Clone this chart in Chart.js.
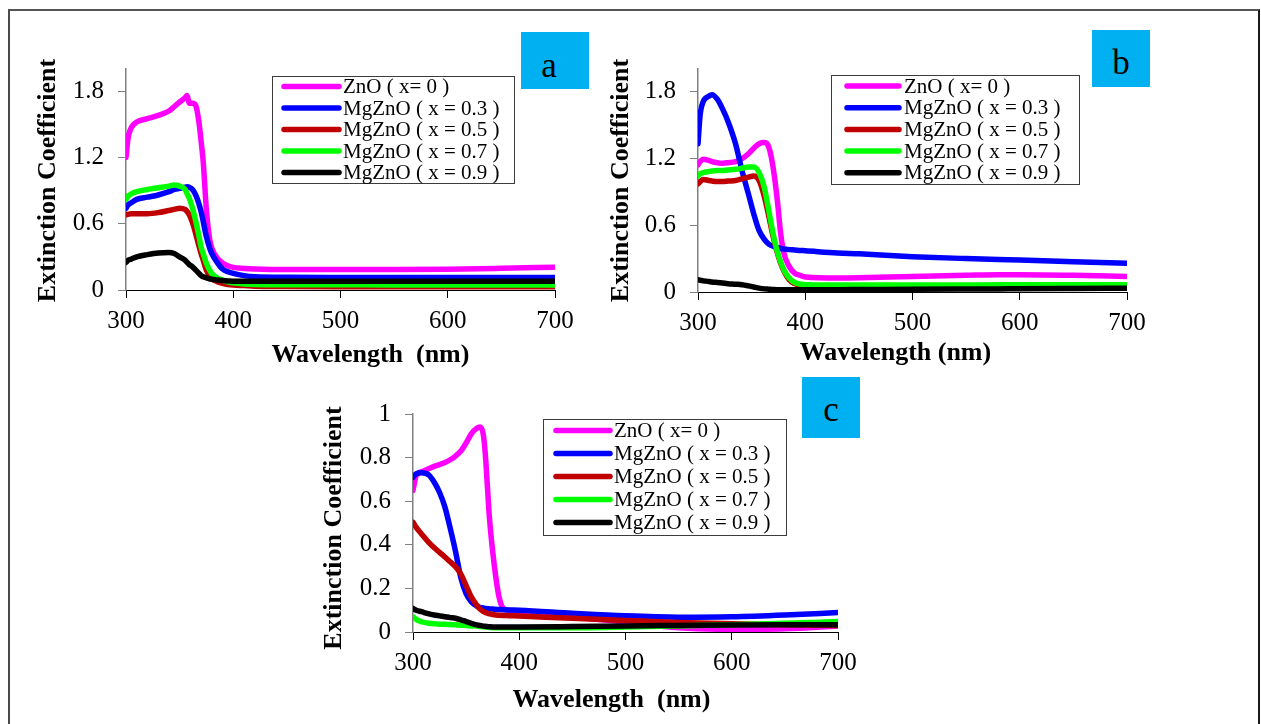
<!DOCTYPE html>
<html>
<head>
<meta charset="utf-8">
<script src="https://cdn.jsdelivr.net/npm/chart.js@4/dist/chart.umd.min.js"></script>
<style>
  body { margin: 0; background: #fff; width: 1261px; height: 724px; overflow: hidden; position: relative; }
  .frame { position: absolute; left: 8px; top: 9px; width: 1248px; height: 760px;
           border-left: 2px solid #4a4a4a; border-top: 2px solid #555; border-right: 2px solid #1a1a1a; }
  canvas { position: absolute; }
  .tag { position: absolute; background: #00B0F0; color: #000; text-align: center;
         font-family: "Liberation Serif", serif; font-size: 35px; }
</style>
</head>
<body>
<div class="frame"></div>
<canvas id="chartA" width="580" height="340" style="left:10px; top:40px;"></canvas>
<canvas id="chartB" width="580" height="340" style="left:600px; top:40px;"></canvas>
<canvas id="chartC" width="580" height="339" style="left:300px; top:385px;"></canvas>
<div class="tag" style="left:521px; top:32px; width:68px; height:52px; padding-top:5px; line-height:57px; text-indent:-12px;">a</div>
<div class="tag" style="left:1092px; top:30px; width:58px; height:53px; padding-top:4px; line-height:57px;">b</div>
<div class="tag" style="left:802px; top:377px; width:58px; height:59px; padding-top:2px; line-height:61px;">c</div>

<script>
// tick values shared by the three panels
const xTicks = [300, 400, 500, 600, 700];
const yTicksAB = [0, 0.6, 1.2, 1.8];
const yTicksC = [0, 0.2, 0.4, 0.6, 0.8, 1];

const seriesLabels = ["ZnO ( x= 0 )", "MgZnO ( x = 0.3 )", "MgZnO ( x = 0.5 )", "MgZnO ( x = 0.7 )", "MgZnO ( x = 0.9 )"];
const seriesColors = ["#FF00FF", "#0000FF", "#C00000", "#00FF00", "#000000"];

// panel a
const waveA = [300, 302, 305, 310, 320, 330, 340, 345, 350, 355, 357, 359, 362, 365, 368, 370, 372, 375, 378, 380, 385, 390, 395, 400, 410, 420, 450, 500, 550, 600, 650, 700];
const znoA  = [1.20, 1.38, 1.47, 1.52, 1.55, 1.58, 1.62, 1.66, 1.70, 1.74, 1.76, 1.69, 1.69, 1.67, 1.52, 1.35, 1.16, 0.72, 0.46, 0.38, 0.29, 0.245, 0.22, 0.205, 0.195, 0.19, 0.185, 0.185, 0.185, 0.188, 0.196, 0.206];
const mg03A = [0.74, 0.77, 0.79, 0.82, 0.84, 0.86, 0.89, 0.91, 0.92, 0.93, 0.935, 0.93, 0.91, 0.86, 0.78, 0.71, 0.62, 0.48, 0.38, 0.33, 0.25, 0.19, 0.165, 0.15, 0.13, 0.12, 0.115, 0.113, 0.112, 0.112, 0.112, 0.112];
const mg05A = [0.68, 0.685, 0.69, 0.69, 0.69, 0.70, 0.72, 0.73, 0.74, 0.73, 0.71, 0.68, 0.61, 0.51, 0.40, 0.33, 0.27, 0.18, 0.13, 0.105, 0.075, 0.06, 0.05, 0.045, 0.04, 0.035, 0.032, 0.03, 0.03, 0.03, 0.03, 0.03];
const mg07A = [0.82, 0.85, 0.87, 0.89, 0.91, 0.925, 0.94, 0.95, 0.94, 0.91, 0.87, 0.83, 0.74, 0.625, 0.49, 0.39, 0.33, 0.24, 0.18, 0.15, 0.11, 0.09, 0.075, 0.065, 0.055, 0.05, 0.048, 0.047, 0.046, 0.046, 0.045, 0.045];
const mg09A = [0.25, 0.27, 0.28, 0.30, 0.32, 0.335, 0.34, 0.33, 0.30, 0.27, 0.25, 0.23, 0.21, 0.18, 0.15, 0.13, 0.12, 0.11, 0.10, 0.098, 0.09, 0.085, 0.082, 0.08, 0.08, 0.08, 0.08, 0.08, 0.08, 0.08, 0.08, 0.08];

// panel b
const waveB = [300, 302, 305, 310, 313, 318, 323, 328, 335, 341, 347, 352, 357, 362, 366, 370, 374, 377, 380, 385, 390, 395, 400, 430, 450, 500, 550, 580, 600, 650, 700];
const znoB  = [1.14, 1.17, 1.19, 1.18, 1.17, 1.16, 1.155, 1.16, 1.17, 1.195, 1.24, 1.29, 1.33, 1.34, 1.30, 1.12, 0.82, 0.53, 0.35, 0.23, 0.17, 0.15, 0.135, 0.125, 0.127, 0.14, 0.15, 0.155, 0.155, 0.15, 0.14];
const mg03B = [1.33, 1.59, 1.71, 1.755, 1.77, 1.73, 1.64, 1.53, 1.33, 1.09, 0.88, 0.70, 0.55, 0.47, 0.43, 0.41, 0.40, 0.39, 0.385, 0.38, 0.377, 0.373, 0.37, 0.35, 0.343, 0.317, 0.30, 0.292, 0.288, 0.272, 0.258];
const mg05B = [0.97, 0.99, 1.01, 1.0, 0.995, 0.99, 0.99, 0.995, 1.0, 1.015, 1.03, 1.04, 1.00, 0.85, 0.68, 0.50, 0.35, 0.26, 0.19, 0.11, 0.075, 0.06, 0.05, 0.05, 0.05, 0.05, 0.05, 0.05, 0.05, 0.05, 0.05];
const mg07B = [1.04, 1.06, 1.07, 1.08, 1.085, 1.09, 1.09, 1.095, 1.10, 1.11, 1.12, 1.12, 1.07, 0.93, 0.73, 0.525, 0.36, 0.27, 0.20, 0.125, 0.085, 0.072, 0.065, 0.063, 0.063, 0.063, 0.063, 0.064, 0.064, 0.065, 0.065];
const mg09B = [0.11, 0.105, 0.10, 0.095, 0.09, 0.085, 0.08, 0.075, 0.07, 0.065, 0.055, 0.045, 0.035, 0.028, 0.025, 0.022, 0.02, 0.02, 0.02, 0.02, 0.02, 0.02, 0.02, 0.021, 0.022, 0.025, 0.027, 0.028, 0.03, 0.032, 0.033];

// panel c
const waveC = [300, 303, 308, 315, 320, 325, 330, 335, 340, 345, 350, 355, 360, 363, 366, 368, 370, 372, 375, 378, 381, 385, 390, 400, 450, 500, 550, 600, 650, 700];
const znoC  = [0.65, 0.717, 0.735, 0.75, 0.76, 0.768, 0.777, 0.79, 0.807, 0.83, 0.867, 0.91, 0.935, 0.94, 0.91, 0.82, 0.67, 0.52, 0.37, 0.25, 0.16, 0.108, 0.10, 0.09, 0.07, 0.045, 0.02, 0.012, 0.015, 0.028];
const mg03C = [0.71, 0.725, 0.73, 0.72, 0.687, 0.64, 0.574, 0.476, 0.37, 0.25, 0.176, 0.138, 0.119, 0.113, 0.11, 0.108, 0.107, 0.106, 0.105, 0.104, 0.103, 0.102, 0.101, 0.10, 0.086, 0.074, 0.068, 0.07, 0.078, 0.089];
const mg05C = [0.503, 0.48, 0.45, 0.41, 0.386, 0.365, 0.344, 0.322, 0.30, 0.266, 0.213, 0.16, 0.123, 0.105, 0.095, 0.09, 0.086, 0.083, 0.08, 0.078, 0.077, 0.076, 0.075, 0.073, 0.063, 0.053, 0.044, 0.038, 0.033, 0.03];
const mg07C = [0.07, 0.058, 0.047, 0.04, 0.038, 0.036, 0.035, 0.034, 0.033, 0.031, 0.03, 0.028, 0.027, 0.025, 0.024, 0.023, 0.022, 0.021, 0.02, 0.02, 0.02, 0.02, 0.02, 0.02, 0.02, 0.023, 0.028, 0.033, 0.04, 0.048];
const mg09C = [0.108, 0.10, 0.093, 0.083, 0.078, 0.074, 0.07, 0.066, 0.063, 0.056, 0.048, 0.04, 0.033, 0.03, 0.027, 0.026, 0.025, 0.024, 0.023, 0.023, 0.023, 0.023, 0.023, 0.023, 0.025, 0.028, 0.03, 0.032, 0.033, 0.033];

const serif = "'Liberation Serif', 'Times New Roman', serif";
const lineWidth = 5.5;

// boxed legend drawn inside the plot area
const boxLegend = {
    id: "boxLegend",
    afterDraw(chart, args, opts) {
        const { ctx, chartArea } = chart;
        const x = Math.round(chartArea.left + opts.dx);
        const y = Math.round(chartArea.top + opts.dy);
        ctx.save();
        ctx.fillStyle = "#fff";
        ctx.fillRect(x, y, opts.width, opts.height);
        ctx.strokeStyle = "#3c3c3c";
        ctx.lineWidth = 1;
        ctx.strokeRect(x + 0.5, y + 0.5, opts.width, opts.height);
        ctx.font = "21px " + serif;
        ctx.textBaseline = "middle";
        ctx.lineCap = "round";
        chart.data.datasets.forEach((ds, i) => {
            const ry = y + opts.firstRow + i * opts.rowGap;
            ctx.strokeStyle = ds.borderColor;
            ctx.lineWidth = lineWidth;
            ctx.beginPath();
            ctx.moveTo(x + opts.lineStart, ry);
            ctx.lineTo(x + opts.lineEnd, ry);
            ctx.stroke();
            ctx.fillStyle = "#000";
            ctx.fillText(ds.label, x + opts.textStart, ry + 1);
        });
        ctx.restore();
    }
};

// axis titles, placed from the chart area
const axisTitles = {
    id: "axisTitles",
    afterDraw(chart, args, opts) {
        const { ctx, chartArea } = chart;
        ctx.save();
        ctx.fillStyle = "#000";
        ctx.font = "bold 26px " + serif;
        ctx.textAlign = "center";
        ctx.textBaseline = "middle";
        const cx = (chartArea.left + chartArea.right) / 2;
        ctx.fillText(opts.xText, cx + opts.xdx, chartArea.bottom + opts.xdy);
        const cy = (chartArea.top + chartArea.bottom) / 2;
        ctx.translate(chartArea.left - opts.ydx, cy + opts.ydy);
        ctx.rotate(-Math.PI / 2);
        ctx.fillText(opts.yText, 0, 0);
        ctx.restore();
    }
};

function makeSeries(wave, rows) {
    return rows.map((vals, i) => ({
        label: seriesLabels[i],
        data: wave.map((w, j) => ({ x: w, y: vals[j] })),
        borderColor: seriesColors[i],
        backgroundColor: seriesColors[i],
        borderWidth: lineWidth,
        pointRadius: 0,
        cubicInterpolationMode: "monotone",
        borderCapStyle: "round",
        borderJoinStyle: "round",
        order: rows.length - i
    }));
}

function makeChart(id, p) {
    const ctx = document.getElementById(id).getContext("2d");
    return new Chart(ctx, {
        type: "line",
        data: { datasets: makeSeries(p.wave, p.rows) },
        options: {
            responsive: false,
            animation: false,
            devicePixelRatio: 1,
            layout: { padding: { top: p.padTop, right: p.padRight, left: 0, bottom: 0 } },
            plugins: {
                legend: { display: false },
                tooltip: { enabled: false },
                boxLegend: p.legend,
                axisTitles: p.titles
            },
            scales: {
                x: {
                    type: "linear",
                    min: 300,
                    max: 700,
                    afterBuildTicks: s => { s.ticks = xTicks.map(v => ({ value: v })); },
                    afterFit: s => { s.height = p.xHeight; },
                    ticks: { color: "#000", font: { family: serif, size: 25 }, padding: 8, maxRotation: 0 },
                    grid: { drawOnChartArea: false, drawTicks: true, tickLength: 8, color: "#000" },
                    border: { display: true, color: "#000", width: 1 }
                },
                y: {
                    min: 0,
                    max: p.yMax,
                    afterBuildTicks: s => { s.ticks = p.yTicks.map(v => ({ value: v })); },
                    afterFit: s => { s.width = p.yWidth; },
                    ticks: { color: "#000", font: { family: serif, size: 25 }, padding: 14, callback: v => String(v) },
                    grid: { drawOnChartArea: false, drawTicks: true, tickLength: 8, color: "#808080" },
                    border: { display: true, color: "#808080", width: 1.5 }
                }
            }
        },
        plugins: [boxLegend, axisTitles]
    });
}

makeChart("chartA", {
    wave: waveA,
    rows: [znoA, mg03A, mg05A, mg07A, mg09A],
    yMax: 2, yTicks: yTicksAB,
    yWidth: 116, xHeight: 90, padTop: 26, padRight: 35,
    legend: { dx: 146, dy: 7, width: 242, height: 107, firstRow: 10.5, rowGap: 21.5, lineStart: 12, lineEnd: 67, textStart: 71 },
    titles: { xText: "Wavelength  (nm)", xdx: 30, xdy: 65, yText: "Extinction Coefficient", ydx: 78, ydy: 1 }
});

makeChart("chartB", {
    wave: waveB,
    rows: [znoB, mg03B, mg05B, mg07B, mg09B],
    yMax: 2, yTicks: yTicksAB,
    yWidth: 98, xHeight: 88, padTop: 28, padRight: 53,
    legend: { dx: 133, dy: 6, width: 248, height: 109, firstRow: 11, rowGap: 21.7, lineStart: 16, lineEnd: 68, textStart: 73 },
    titles: { xText: "Wavelength (nm)", xdx: -17, xdy: 61, yText: "Extinction Coefficient", ydx: 77, ydy: 0 }
});

makeChart("chartC", {
    wave: waveC,
    rows: [znoC, mg03C, mg05C, mg07C, mg09C],
    yMax: 1, yTicks: yTicksC,
    yWidth: 113, xHeight: 92, padTop: 26, padRight: 42,
    legend: { dx: 130, dy: 5, width: 243, height: 116, firstRow: 11.5, rowGap: 23, lineStart: 13, lineEnd: 67, textStart: 71 },
    titles: { xText: "Wavelength  (nm)", xdx: -14, xdy: 68, yText: "Extinction Coefficient", ydx: 79, ydy: 5 }
});
</script>
</body>
</html>
